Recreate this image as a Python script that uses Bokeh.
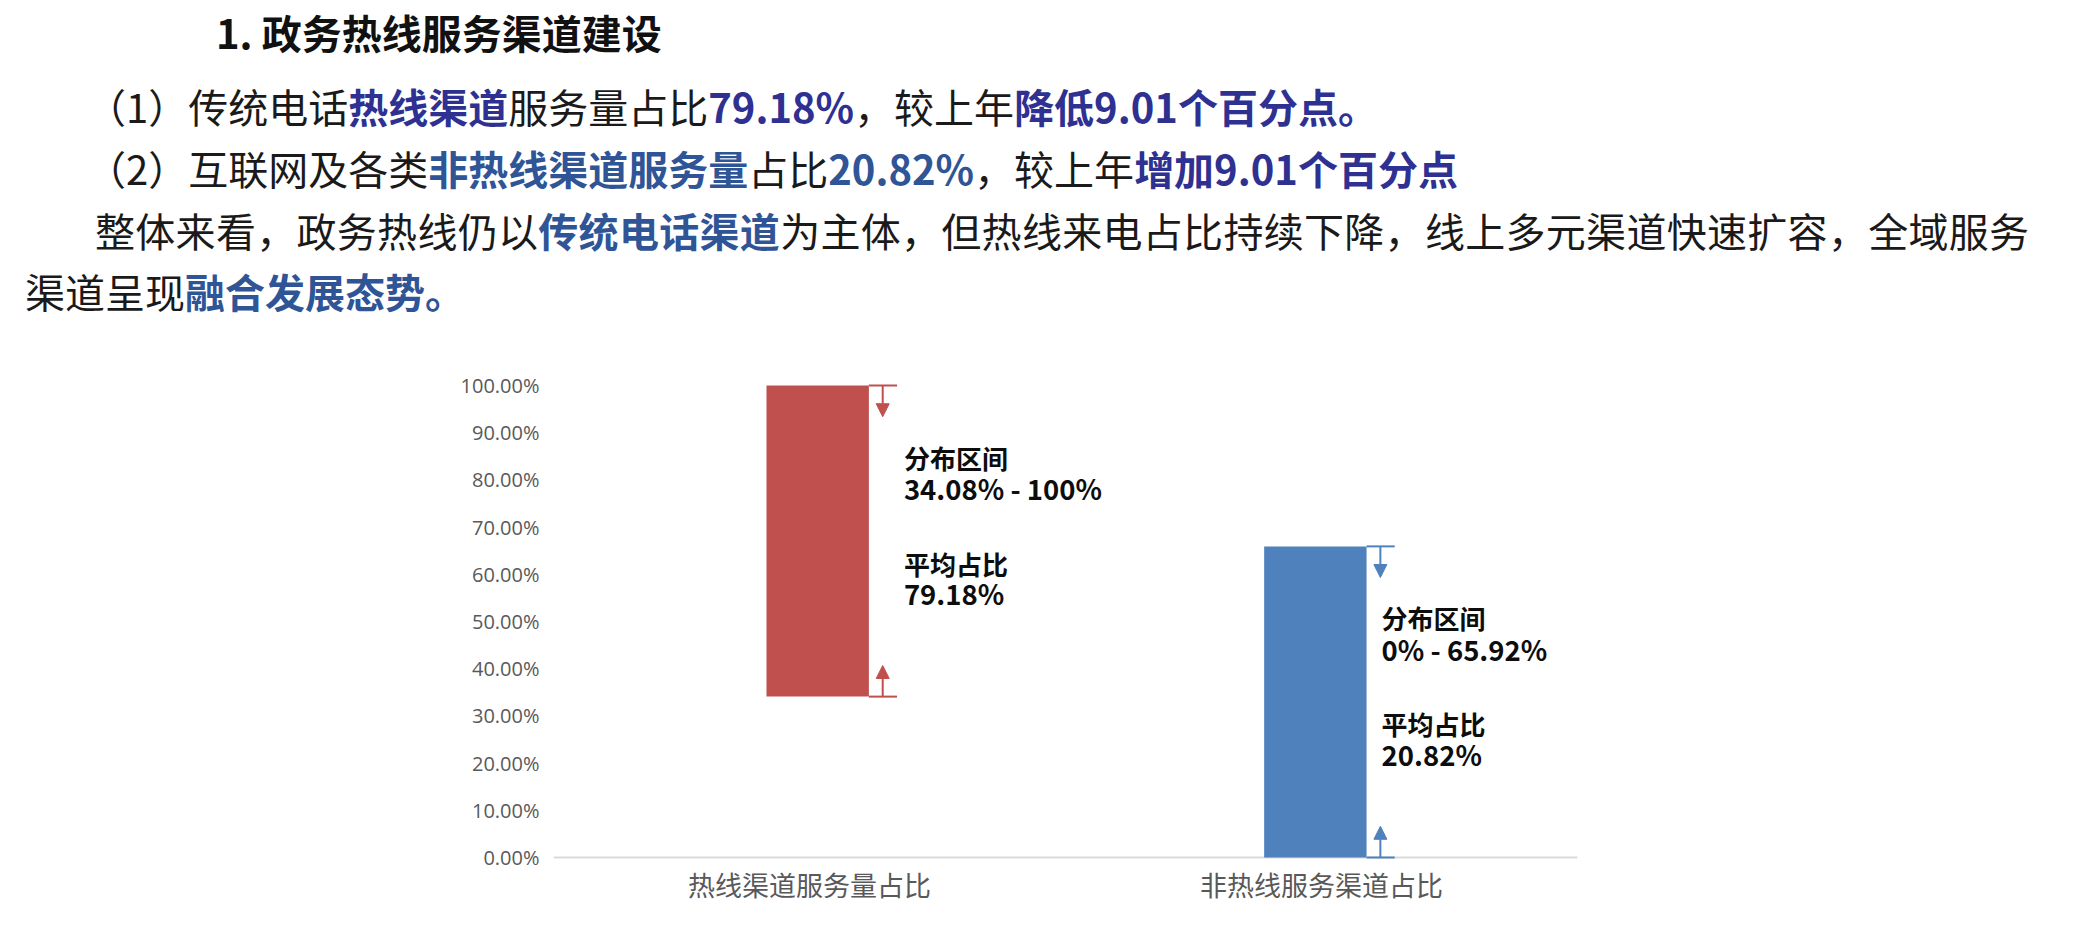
from bokeh.plotting import figure
from bokeh.models import (Range1d, FixedTicker, PrintfTickFormatter, Span, Arrow,
                          NormalHead, ColumnDataSource, Div)
from bokeh.layouts import column
from bokeh.embed import file_html
from bokeh.resources import INLINE
from bokeh.core.properties import value

# ---------------- data ----------------
categories = ["热线渠道服务量占比", "非热线服务渠道占比"]
range_low = [34.08, 0.0]
range_high = [100.0, 65.92]
mean_share = [79.18, 20.82]
bar_colors = ["#C0504D", "#4F81BD"]
y_ticks = [0, 10, 20, 30, 40, 50, 60, 70, 80, 90, 100]
range_title = "分布区间"
mean_title = "平均占比"

# ---------------- styles ----------------
W, H = 2087, 935
DIV_H = 330
CJK = "Noto Sans CJK SC"
bar_width = 0.2
bar_shift = [0.016, -0.012]
cap_len = 0.055
arrow_dx = 0.027
arrow_len = 6.6
label_dx_px = [35, 15]
line_offsets = [-84, -53, 22, 52]
line_sizes = ["26px", "27.5px", "26px", "27.5px"]

# ---------------- header text ----------------
NAVY = "color:#2E3192;font-weight:bold"
STEEL = "color:#2F5597;font-weight:bold"
line_style = "position:absolute;white-space:nowrap;line-height:60px;"
html = f"""
<div style="position:relative;width:{W}px;height:{DIV_H}px;font-family:'{CJK}',sans-serif;font-size:40px;color:#1a1a1a;">
  <div style="{line_style}left:216px;top:2px;font-weight:bold;color:#111;">1. 政务热线服务渠道建设</div>
  <div style="{line_style}left:86px;top:76px;">（1）传统电话<span style="{NAVY}">热线渠道</span>服务量占比<span style="{NAVY}">79.18%</span>，较上年<span style="{NAVY}">降低9.01个百分点。</span></div>
  <div style="{line_style}left:86px;top:138px;">（2）互联网及各类<span style="{STEEL}">非热线渠道服务量</span>占比<span style="{STEEL}">20.82%</span>，较上年<span style="{NAVY}">增加9.01个百分点</span></div>
  <div style="{line_style}left:95px;top:200px;letter-spacing:0.3px;">整体来看，政务热线仍以<span style="{STEEL}">传统电话渠道</span>为主体，但热线来电占比持续下降，线上多元渠道快速扩容，全域服务</div>
  <div style="{line_style}left:25px;top:261px;">渠道呈现<span style="{STEEL}">融合发展态势。</span></div>
</div>
"""
header = Div(text=html, width=W, height=DIV_H, margin=(0, 0, 0, 0))

# ---------------- chart ----------------
n = len(categories)
xc = [i + 0.5 + bar_shift[i] for i in range(n)]
right = [x + bar_width / 2 for x in xc]
mid = [(lo + hi) / 2 for lo, hi in zip(range_low, range_high)]

p = figure(width=W, height=H - DIV_H, output_backend="svg", toolbar_location=None,
           x_range=Range1d(0, n), y_range=Range1d(-1.5, 101.5),
           min_border_left=553, min_border_right=510,
           min_border_top=48, min_border_bottom=71,
           outline_line_color=None, background_fill_color="white",
           border_fill_color="white")
p.xgrid.visible = False
p.ygrid.visible = False

# base line at 0
p.add_layout(Span(location=0, dimension="width", line_color="#D9D9D9",
                  line_width=2, level="underlay"))

# floating bars
p.vbar(x=xc, width=bar_width, bottom=range_low, top=range_high,
       fill_color=bar_colors, line_color=None)

# caps
p.segment(x0=right, y0=range_high, x1=[r + cap_len for r in right], y1=range_high,
          line_color=bar_colors, line_width=2)
p.segment(x0=right, y0=range_low, x1=[r + cap_len for r in right], y1=range_low,
          line_color=bar_colors, line_width=2)

# arrows
for i in range(n):
    ax = right[i] + arrow_dx
    c = bar_colors[i]
    p.add_layout(Arrow(x_start=ax, y_start=range_high[i], x_end=ax,
                       y_end=range_high[i] - arrow_len, line_color=c, line_width=2,
                       end=NormalHead(size=13, fill_color=c, line_color=c)))
    p.add_layout(Arrow(x_start=ax, y_start=range_low[i], x_end=ax,
                       y_end=range_low[i] + arrow_len, line_color=c, line_width=2,
                       end=NormalHead(size=13, fill_color=c, line_color=c)))

# annotation texts
lx, ly, lt, xo, yo, fs = [], [], [], [], [], []
for i in range(n):
    texts = [range_title, f"{range_low[i]:g}% - {range_high[i]:g}%",
             mean_title, f"{mean_share[i]:g}%"]
    for t, off, sz in zip(texts, line_offsets, line_sizes):
        lx.append(right[i])
        ly.append(mid[i])
        lt.append(t)
        xo.append(label_dx_px[i])
        yo.append(off)
        fs.append(sz)
src = ColumnDataSource(dict(x=lx, y=ly, text=lt, xo=xo, yo=yo, fs=fs))
p.text(x="x", y="y", text="text", x_offset="xo", y_offset="yo", source=src,
       text_font=value(CJK), text_font_style="bold", text_font_size="fs",
       text_color="#0d0d0d", text_align="left", text_baseline="middle")

# y axis
p.yaxis.ticker = FixedTicker(ticks=y_ticks)
p.yaxis.formatter = PrintfTickFormatter(format="%.2f%%")
p.yaxis.axis_line_color = None
p.yaxis.major_tick_line_color = None
p.yaxis.minor_tick_line_color = None
p.yaxis.major_tick_out = 0
p.yaxis.major_label_standoff = 14
p.yaxis.major_label_text_font = "Open Sans"
p.yaxis.major_label_text_font_size = "20px"
p.yaxis.major_label_text_color = "#595959"

# x axis
cat_pos = [i + 0.5 for i in range(n)]
p.xaxis.ticker = FixedTicker(ticks=cat_pos)
p.xaxis.major_label_overrides = {pos: c for pos, c in zip(cat_pos, categories)}
p.xaxis.axis_line_color = None
p.xaxis.major_tick_line_color = None
p.xaxis.minor_tick_line_color = None
p.xaxis.major_tick_out = 0
p.xaxis.major_label_standoff = 0
p.xaxis.major_label_text_font = CJK
p.xaxis.major_label_text_font_size = "27px"
p.xaxis.major_label_text_color = "#595959"

layout = column(header, p, spacing=0)
open("out.html", "w").write(file_html(layout, INLINE))
